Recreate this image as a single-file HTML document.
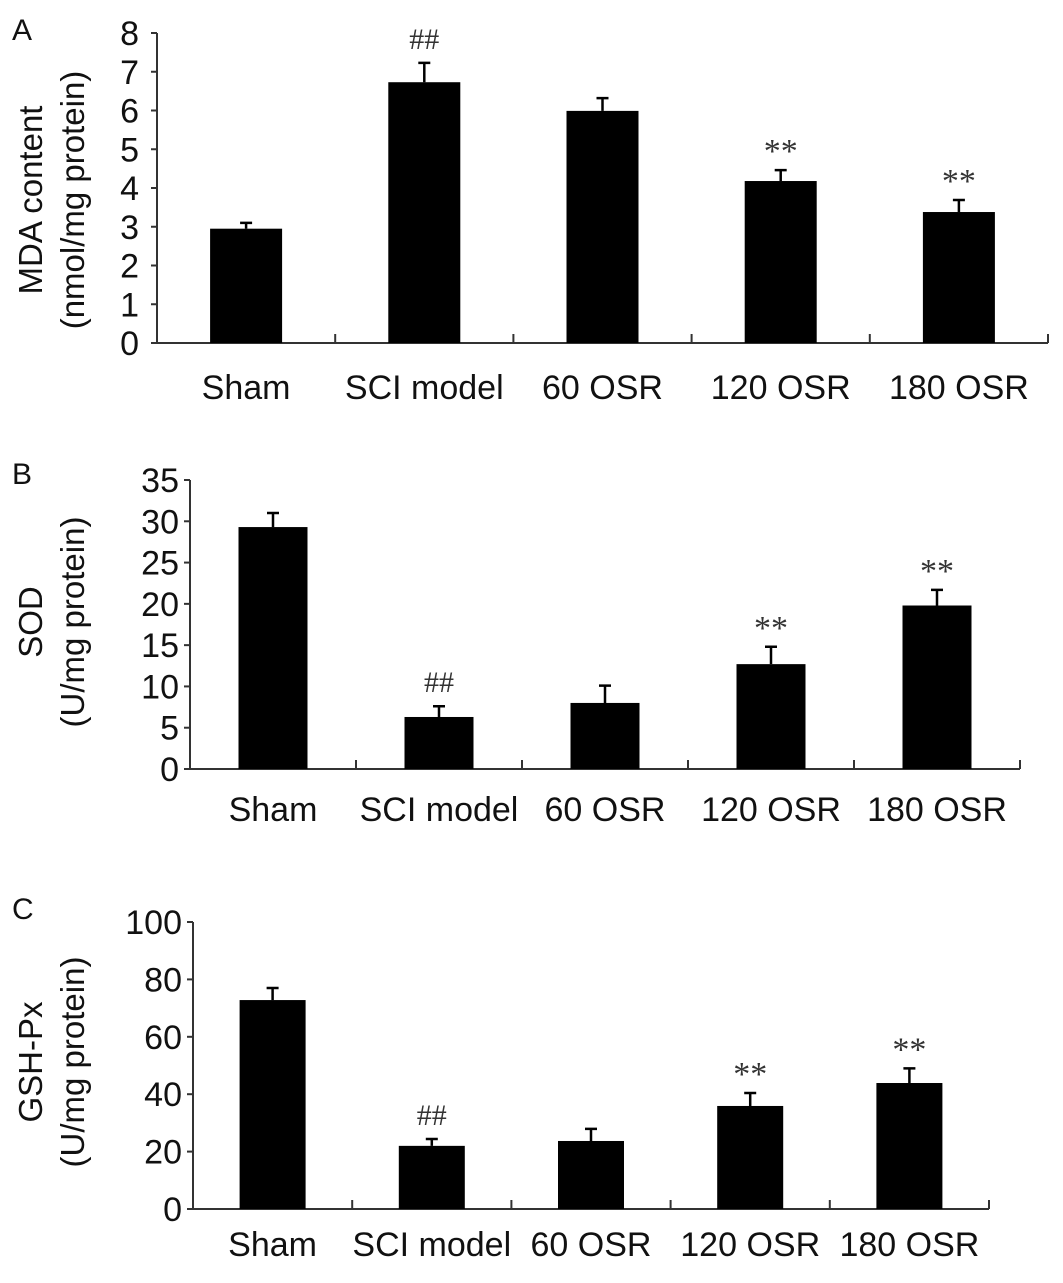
<!DOCTYPE html>
<html><head><meta charset="utf-8"><style>
html,body{margin:0;padding:0;background:#fff}
svg{display:block;font-family:"Liberation Sans",Arial,sans-serif}
</style></head><body>
<svg id="fig" width="1063" height="1283" viewBox="0 0 1063 1283" xmlns="http://www.w3.org/2000/svg"></svg>
<script>
const categories = ["Sham","SCI model","60 OSR","120 OSR","180 OSR"];
const mdaValues = [2.95, 6.73, 5.99, 4.18, 3.38];
const mdaErrors = [0.15, 0.5, 0.33, 0.28, 0.31];
const mdaMarks = ["", "##", "", "**", "**"];
const mdaTicks = [0,1,2,3,4,5,6,7,8];
const sodValues = [29.3, 6.3, 8.0, 12.7, 19.8];
const sodErrors = [1.7, 1.3, 2.1, 2.1, 1.9];
const sodMarks = ["", "##", "", "**", "**"];
const sodTicks = [0,5,10,15,20,25,30,35];
const gshValues = [72.8, 22.0, 23.7, 35.9, 43.9];
const gshErrors = [4.2, 2.4, 4.2, 4.5, 5.1];
const gshMarks = ["", "##", "", "**", "**"];
const gshTicks = [0,20,40,60,80,100];

const NS = "http://www.w3.org/2000/svg";
const svg = document.getElementById("fig");
function mk(tag, attrs, parent, text){
  const e = document.createElementNS(NS, tag);
  for (const k in attrs) e.setAttribute(k, attrs[k]);
  if (text !== undefined) e.textContent = text;
  (parent||svg).appendChild(e);
  return e;
}
function panel(cfg, values, errors, marks, ticks){
  const g = mk("g", {});
  
  
  const ymax = ticks[ticks.length-1];
  const y = v => cfg.y0 - (v/ymax)*(cfg.y0-cfg.yTop);
  const cw = (cfg.x1-cfg.x0)/categories.length;
  const x = i => cfg.x0 + cw*(i+0.5);
  const ax = mk("path", {d:`M${cfg.x0} ${cfg.yTop}V${cfg.y0}H${cfg.x1}`, stroke:"#333", "stroke-width":2, fill:"none"}, g);
  
  
  ticks.forEach(t=>{
    mk("line",{x1:cfg.x0-6,x2:cfg.x0,y1:y(t),y2:y(t),stroke:"#333","stroke-width":2},g);
    const tl = mk("text",{x:cfg.tickX,y:y(t)+12,"text-anchor":"end","font-size":34,fill:"#111"},g,String(t));
    
    
  });
  for (let i=1;i<=categories.length;i++){
    const tx = cfg.x0+cw*i;
    mk("line",{x1:tx,x2:tx,y1:cfg.y0-9,y2:cfg.y0,stroke:"#333","stroke-width":2},g);
  }
  categories.forEach((c,i)=>{
    const cx = x(i);
    const bar = mk("rect",{x:cx-cfg.bw/2,y:y(values[i]),width:cfg.bw,height:cfg.y0-y(values[i]),fill:"#000"},g);
    
    
    const et = y(values[i]+errors[i]);
    const eb = mk("path",{d:`M${cx} ${y(values[i])}V${et}M${cx-6} ${et}H${cx+6}`,stroke:"#000","stroke-width":2.5,fill:"none"},g);
    
    
    if (marks[i]){
      const isHash = marks[i]==="##";
      const m = mk("text",{x:cx,y:et-(isHash?14:8),"text-anchor":"middle","font-size":isHash?30:34,fill:"#333",
        "font-family":"Liberation Serif, serif"},g,marks[i]);
      
      
    }
    const lbl = mk("text",{x:cx,y:cfg.labelY,"text-anchor":"middle","font-size":34,fill:"#111"},g,c);
    
    
  });
  const cy = cfg.titleCy;
  const t1 = mk("text",{x:0,y:0,"text-anchor":"middle","font-size":33,fill:"#111",transform:`translate(${cfg.t1x},${cy}) rotate(-90)`},g,cfg.title1);
  
  
  const t2 = mk("text",{x:0,y:0,"text-anchor":"middle","font-size":33,fill:"#111",transform:`translate(${cfg.t2x},${cy}) rotate(-90)`},g,cfg.title2);
  
  
  const pl = mk("text",{x:12,y:cfg.letterY,"font-size":30,fill:"#111"},g,cfg.letter);
  
  
}
panel({name:"panel-a-mda",x0:157,x1:1048,y0:343,yTop:33,bw:72,tickX:139,labelY:399,titleCy:200,t1x:42,t2x:84,
  title1:"MDA content",title2:"(nmol/mg protein)",letter:"A",letterY:40}, mdaValues, mdaErrors, mdaMarks, mdaTicks);
panel({name:"panel-b-sod",x0:190,x1:1020,y0:769,yTop:480,bw:69,tickX:179,labelY:821,titleCy:622,t1x:42,t2x:84,
  title1:"SOD",title2:"(U/mg protein)",letter:"B",letterY:484}, sodValues, sodErrors, sodMarks, sodTicks);
panel({name:"panel-c-gsh",x0:193,x1:989,y0:1209,yTop:922,bw:66,tickX:182,labelY:1256,titleCy:1062,t1x:42,t2x:84,
  title1:"GSH-Px",title2:"(U/mg protein)",letter:"C",letterY:919}, gshValues, gshErrors, gshMarks, gshTicks);
</script>
</body></html>
